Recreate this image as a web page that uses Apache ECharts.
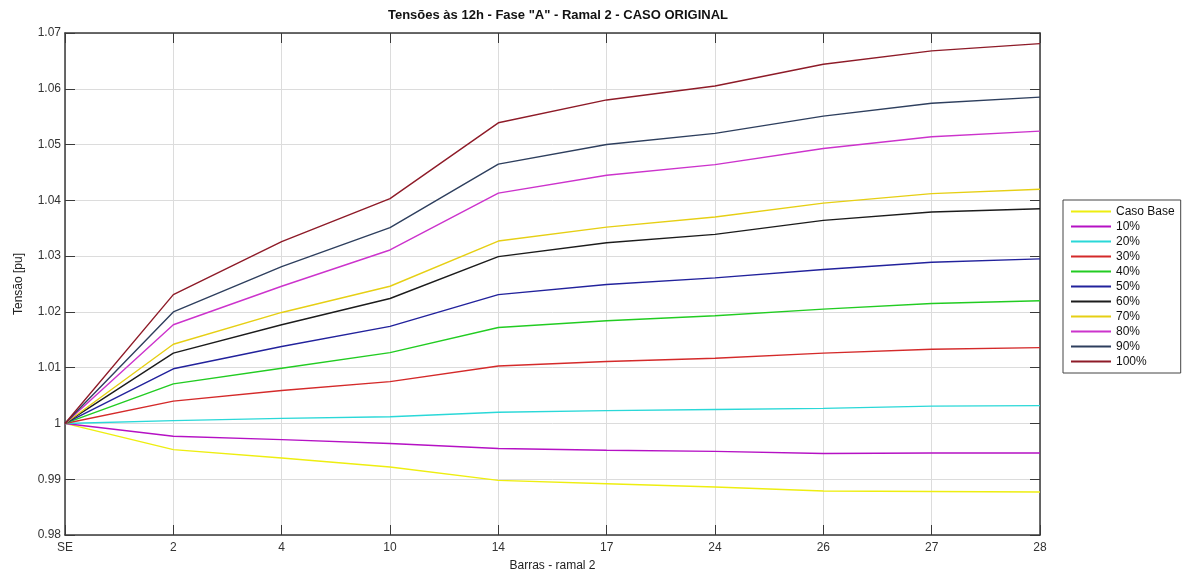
<!DOCTYPE html>
<html>
<head>
<meta charset="utf-8">
<title>Tensões às 12h - Fase A - Ramal 2</title>
<script src="https://cdn.jsdelivr.net/npm/echarts@6/dist/echarts.min.js"></script>
<style>
  html, body {
    margin: 0;
    padding: 0;
    background: #ffffff;
  }
  #chart {
    width: 1182px;
    height: 577px;
  }
</style>
</head>
<body>
<div id="chart"></div>
<script>
// barras do ramal 2
const barras = ['SE', '2', '4', '10', '14', '17', '24', '26', '27', '28'];

// tensoes [pu]
const casoBase = [1.0, 0.9953, 0.9938, 0.9922, 0.9898, 0.9892, 0.9886, 0.9879, 0.9878, 0.9877];
const p10 = [1.0, 0.9977, 0.9971, 0.9964, 0.9955, 0.9952, 0.9950, 0.9946, 0.9947, 0.9947];
const p20 = [1.0, 1.0005, 1.0009, 1.0012, 1.0020, 1.0023, 1.0025, 1.0027, 1.0031, 1.0032];
const p30 = [1.0, 1.0040, 1.0059, 1.0075, 1.0103, 1.0111, 1.0117, 1.0126, 1.0133, 1.0136];
const p40 = [1.0, 1.0071, 1.0099, 1.0127, 1.0172, 1.0184, 1.0193, 1.0205, 1.0215, 1.0220];
const p50 = [1.0, 1.0098, 1.0138, 1.0174, 1.0231, 1.0249, 1.0261, 1.0276, 1.0289, 1.0295];
const p60 = [1.0, 1.0126, 1.0177, 1.0224, 1.0299, 1.0324, 1.0339, 1.0364, 1.0379, 1.0385];
const p70 = [1.0, 1.0142, 1.0199, 1.0246, 1.0327, 1.0352, 1.0370, 1.0395, 1.0412, 1.0420];
const p80 = [1.0, 1.0177, 1.0246, 1.0311, 1.0413, 1.0445, 1.0464, 1.0493, 1.0514, 1.0524];
const p90 = [1.0, 1.0200, 1.0281, 1.0351, 1.0465, 1.0500, 1.0520, 1.0551, 1.0574, 1.0585];
const p100 = [1.0, 1.0231, 1.0326, 1.0403, 1.0539, 1.0580, 1.0605, 1.0644, 1.0668, 1.0681];

const nomes = ['Caso Base', '10%', '20%', '30%', '40%', '50%', '60%', '70%', '80%', '90%', '100%'];
const dados = [casoBase, p10, p20, p30, p40, p50, p60, p70, p80, p90, p100];
const cores = ['#eeee10', '#b511c4', '#2ad8d8', '#d42a2a', '#22cc22', '#22229c',
               '#1c1c1c', '#e6cf14', '#cc33cc', '#2e3f5e', '#8e1b28'];

// eixo y
const yMin = 0.98;
const yMax = 1.07;
const yStep = 0.01;

const fonte = '"Liberation Sans", Arial, sans-serif';
const corEixo = '#3a3a3a';

function initChart() {
  let series = nomes.map((nome, i) => ({
    name: nome,
    type: 'line',
    data: dados[i],
    showSymbol: false,
    symbol: 'none',
    lineStyle: { width: 1.4, color: cores[i] },
    itemStyle: { color: cores[i] },
    z: 2 + i
  }));

  let option = {
    backgroundColor: '#ffffff',
    animation: false,
    title: {
      text: 'Tensões às 12h - Fase "A" - Ramal 2 - CASO ORIGINAL',
      left: 553,
      textAlign: 'center',
      top: 4,
      textStyle: { fontFamily: fonte, fontSize: 13, fontWeight: 'bold', color: '#111' }
    },
    legend: {
      orient: 'vertical',
      left: 1063,
      top: 200,
      data: nomes,
      icon: 'rect',
      itemWidth: 40,
      itemHeight: 2,
      itemGap: 2,
      padding: [5, 6, 5, 8],
      borderColor: '#444',
      borderWidth: 1,
      backgroundColor: '#ffffff',
      textStyle: { fontFamily: fonte, fontSize: 12, color: '#111', lineHeight: 13 }
    },
    grid: {
      left: 65,
      right: 142,
      top: 33,
      bottom: 38,
      containLabel: false
    },
    xAxis: [
      {
        type: 'category',
        data: barras,
        boundaryGap: false,
        name: 'Barras - ramal 2',
        nameLocation: 'middle',
        nameGap: 25,
        nameTextStyle: { fontFamily: fonte, fontSize: 12, color: '#222' },
        axisLine: { lineStyle: { color: corEixo, width: 1.5 } },
        axisTick: { inside: true, length: 10, lineStyle: { color: corEixo } },
        axisLabel: { fontFamily: fonte, fontSize: 12, color: '#333', margin: 7 },
        splitLine: { show: true, lineStyle: { color: '#dcdcdc', width: 1 } }
      },
      {
        type: 'category',
        data: barras,
        boundaryGap: false,
        position: 'top',
        axisLine: { lineStyle: { color: corEixo, width: 1.5 } },
        axisTick: { inside: true, length: 10, lineStyle: { color: corEixo } },
        axisLabel: { show: false },
        splitLine: { show: false }
      }
    ],
    yAxis: [
      {
        type: 'value',
        min: yMin,
        max: yMax,
        interval: yStep,
        name: 'Tensão [pu]',
        nameLocation: 'middle',
        nameGap: 40,
        nameTextStyle: { fontFamily: fonte, fontSize: 12, color: '#222' },
        axisLine: { show: true, lineStyle: { color: corEixo, width: 1.5 } },
        axisTick: { show: true, inside: true, length: 10, lineStyle: { color: corEixo } },
        axisLabel: {
          fontFamily: fonte,
          fontSize: 12,
          color: '#333',
          margin: 4,
          formatter: v => String(parseFloat(v.toFixed(2)))
        },
        splitLine: { show: true, lineStyle: { color: '#dcdcdc', width: 1 } }
      },
      {
        type: 'value',
        min: yMin,
        max: yMax,
        interval: yStep,
        position: 'right',
        axisLine: { show: true, lineStyle: { color: corEixo, width: 1.5 } },
        axisTick: { show: true, inside: true, length: 10, lineStyle: { color: corEixo } },
        axisLabel: { show: false },
        splitLine: { show: false }
      }
    ],
    series: series
  };

  let myChart = echarts.init(document.getElementById('chart'));
  myChart.setOption(option);
}

initChart();
</script>
</body>
</html>
